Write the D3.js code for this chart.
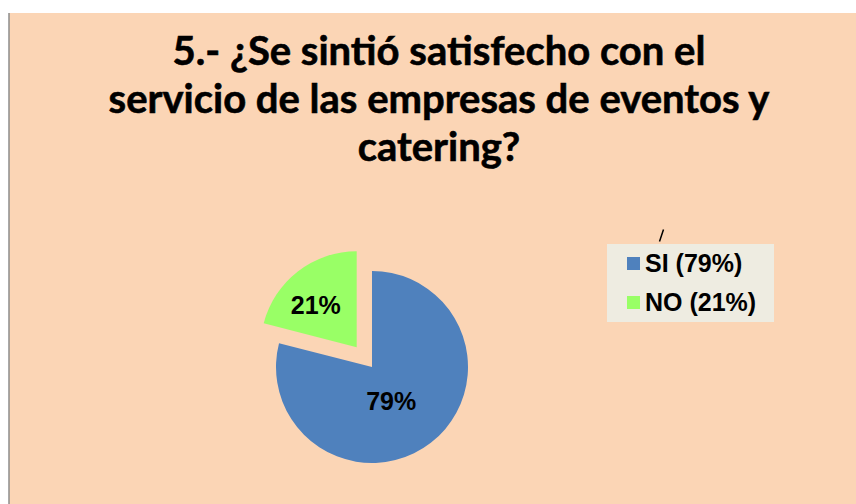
<!DOCTYPE html>
<html>
<head>
<meta charset="utf-8">
<script src="https://cdn.jsdelivr.net/npm/d3@7"></script>
<style>
html,body{margin:0;padding:0;background:#fff;}
svg{display:block;}
</style>
</head>
<body>
<svg id="chart" width="856" height="504"></svg>
<script>
const titleLines = ["5.- ¿Se sintió satisfecho con el", "servicio de las empresas de eventos y", "catering?"];
const categories = ["SI", "NO"];
const values = [79, 21];
const legendLabels = ["SI (79%)", "NO (21%)"];
const colors = ["#4F81BD", "#99FF66"];

const svg = d3.select("#chart");
svg.append("rect").attr("x", 9).attr("y", 13).attr("width", 847).attr("height", 491).attr("fill", "#FBD5B5");
svg.append("line").attr("x1", 9).attr("x2", 9).attr("y1", 13).attr("y2", 504).attr("stroke", "#8c8c8c").attr("stroke-width", 1.5);

const title = svg.append("text").attr("text-anchor", "middle")
  .attr("font-family", "Lato, 'Open Sans', sans-serif").attr("font-weight", "bold").attr("font-size", 40)
  .attr("fill", "#000").attr("stroke", "#000").attr("stroke-width", 0.6);
titleLines.forEach((t, i) => {
  title.append("tspan").attr("x", 439).attr("y", 65 + i * 48).text(t);
});

const cx = 372, cy = 367, r = 96, explode = 25;
const pie = d3.pie().sort(null).value(d => d)(values);
const arc = d3.arc().innerRadius(0).outerRadius(r);
const g = svg.append("g").attr("transform", `translate(${cx},${cy})`);
const labelFactor = [0.41, 0.615];
const labelTurn = [0.15, -0.105];
pie.forEach((d, i) => {
  const mid = (d.startAngle + d.endAngle) / 2;
  const off = i === 1 ? explode : 0;
  const dx = Math.sin(mid) * off, dy = -Math.cos(mid) * off;
  const sg = g.append("g").attr("transform", `translate(${dx},${dy})`);
  sg.append("path").attr("d", arc(d)).attr("fill", colors[i]);
  const lr = r * labelFactor[i], la = mid + labelTurn[i];
  sg.append("text").attr("x", Math.sin(la) * lr).attr("y", -Math.cos(la) * lr)
    .attr("text-anchor", "middle").attr("dominant-baseline", "central")
    .attr("font-family", "'Liberation Sans', Arial, sans-serif").attr("font-weight", "bold").attr("font-size", 25)
    .text(values[i] + "%");
});

svg.append("line").attr("x1", 659.5).attr("y1", 241.5).attr("x2", 663.5).attr("y2", 229.5).attr("stroke", "#000").attr("stroke-width", 1.5);
const lg = svg.append("g");
lg.append("rect").attr("x", 607).attr("y", 244).attr("width", 167).attr("height", 78).attr("fill", "#EEECE1");
legendLabels.forEach((t, i) => {
  const y = 257 + i * 39;
  lg.append("rect").attr("x", 627).attr("y", y).attr("width", 13).attr("height", 13).attr("fill", colors[i]);
  lg.append("text").attr("x", 645).attr("y", y + 15)
    .attr("font-family", "'Liberation Sans', Arial, sans-serif").attr("font-weight", "bold").attr("font-size", 25)
    .text(t);
});
</script>
</body>
</html>
